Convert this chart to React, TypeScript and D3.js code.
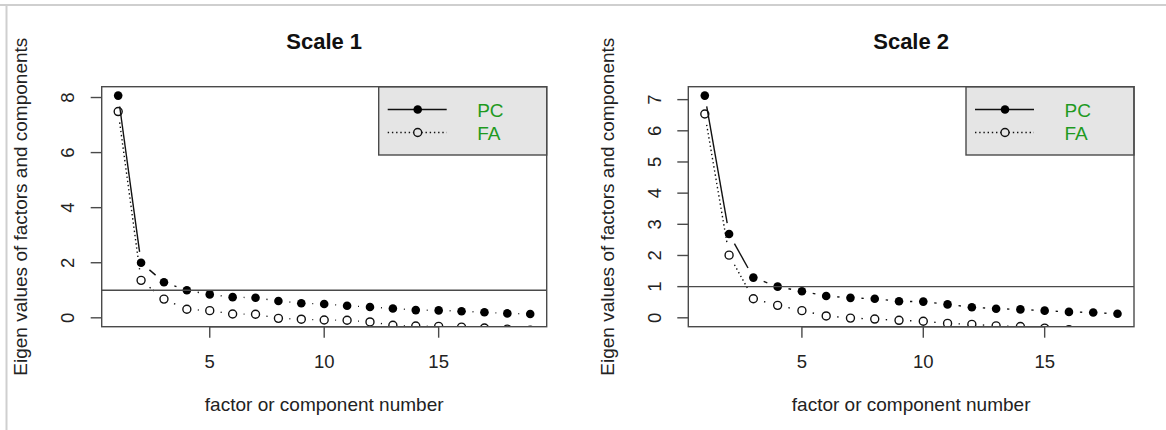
import React from "react";
import * as d3 from "d3";

// values
const titles = ["Scale 1", "Scale 2"];
const scale1PC = [8.07, 2.0, 1.29, 1.0, 0.85, 0.75, 0.73, 0.61, 0.53, 0.5, 0.44, 0.39, 0.34, 0.28, 0.27, 0.24, 0.2, 0.16, 0.14];
const scale1FA = [7.49, 1.36, 0.68, 0.31, 0.26, 0.14, 0.13, -0.02, -0.05, -0.08, -0.09, -0.15, -0.27, -0.3, -0.31, -0.34, -0.37, -0.41, -0.45];
const scale2PC = [7.13, 2.69, 1.29, 1.0, 0.85, 0.7, 0.64, 0.61, 0.53, 0.52, 0.43, 0.34, 0.29, 0.27, 0.23, 0.19, 0.17, 0.13];
const scale2FA = [6.54, 2.01, 0.61, 0.4, 0.23, 0.06, -0.01, -0.04, -0.08, -0.11, -0.18, -0.21, -0.26, -0.28, -0.33, -0.38, -0.42, -0.47];
const xTicks = [5, 10, 15];
const yTicks1 = [0, 2, 4, 6, 8];
const yTicks2 = [0, 1, 2, 3, 4, 5, 6, 7];
const legendLabels = ["PC", "FA"];
const xLabel = "factor or component number";
const yLabel = "Eigen values of factors and components";

const FONT = "'Liberation Sans', Arial, Helvetica, sans-serif";
const BOX = "#4a4a4a";
const GREEN = "#1f9a1f";
const GAP = 11; // type="b" gap around each point
const DOTTED = "1.4 2.8";

type PanelProps = {
  id: string;
  title: string;
  pc: number[];
  fa: number[];
  yTicks: number[];
  left: number;
  right: number;
};

// segments between consecutive points with gaps, like R's type = "b"
function gappedSegments(pts: [number, number][]) {
  const segs: { x1: number; y1: number; x2: number; y2: number }[] = [];
  for (let i = 0; i < pts.length - 1; i++) {
    const [ax, ay] = pts[i];
    const [bx, by] = pts[i + 1];
    const len = Math.hypot(bx - ax, by - ay);
    if (len <= 2 * GAP) continue;
    const ux = (bx - ax) / len, uy = (by - ay) / len;
    segs.push({ x1: ax + ux * GAP, y1: ay + uy * GAP, x2: bx - ux * GAP, y2: by - uy * GAP });
  }
  return segs;
}

function Panel({ id, title, pc, fa, yTicks, left, right }: PanelProps) {
  const top = 86.7, bottom = 326.7;
  const n = pc.length;
  const ext = 0.04 * (n - 1);
  const x = d3.scaleLinear().domain([1 - ext, n + ext]).range([left, right]);
  const ymax = pc[0];
  const y = d3.scaleLinear().domain([-0.04 * ymax, ymax * 1.04]).range([bottom, top]);

  const pcPts: [number, number][] = pc.map((v, i) => [x(i + 1), y(v)]);
  const faPts: [number, number][] = fa.map((v, i) => [x(i + 1), y(v)]);
  const cx = (left + right) / 2;
  const cy = (top + bottom) / 2;
  const legLeft = right - 168;
  const legBottom = 155;

  return (
    <g fontFamily={FONT}>
      <defs>
        <clipPath id={id}>
          <rect x={left} y={top} width={right - left} height={bottom - top} />
        </clipPath>
      </defs>
      <text x={cx} y={49} textAnchor="middle" fontSize={22} fontWeight="bold" fill="#111">{title}</text>

      <g clipPath={`url(#${id})`}>
        {gappedSegments(pcPts).map((s, i) => (
          <line key={"p" + i} {...s} stroke="#111" strokeWidth={1.4} />
        ))}
        {gappedSegments(faPts).map((s, i) => (
          <line key={"f" + i} {...s} stroke="#111" strokeWidth={1.4} strokeDasharray={DOTTED} />
        ))}
        {pcPts.map(([px, py], i) => (
          <circle key={"pc" + i} cx={px} cy={py} r={4.3} fill="#000" />
        ))}
        {faPts.map(([px, py], i) => (
          <circle key={"fa" + i} cx={px} cy={py} r={4.0} fill="none" stroke="#111" strokeWidth={1.4} />
        ))}
      </g>

      <line x1={left} x2={right} y1={y(1)} y2={y(1)} stroke={BOX} strokeWidth={1.4} />

      {/* legend */}
      <rect x={legLeft} y={top} width={right - legLeft} height={legBottom - top} fill="#e5e5e5" stroke={BOX} strokeWidth={1.4} />
      <line x1={legLeft + 9} x2={legLeft + 68} y1={109.5} y2={109.5} stroke="#111" strokeWidth={1.4} />
      <circle cx={legLeft + 39} cy={109.5} r={4.3} fill="#000" />
      <line x1={legLeft + 9} x2={legLeft + 68} y1={132.5} y2={132.5} stroke="#111" strokeWidth={1.4} strokeDasharray={DOTTED} />
      <circle cx={legLeft + 39} cy={132.5} r={4.0} fill="#e5e5e5" stroke="#111" strokeWidth={1.4} />
      {legendLabels.map((lab, i) => (
        <text key={lab} x={legLeft + 98.5} y={116.5 + i * 23} fontSize={19} fill={GREEN}>{lab}</text>
      ))}

      <rect x={left} y={top} width={right - left} height={bottom - top} fill="none" stroke={BOX} strokeWidth={1.4} />

      {/* x axis */}
      <line x1={x(xTicks[0])} x2={x(xTicks[xTicks.length - 1])} y1={bottom} y2={bottom} stroke={BOX} strokeWidth={1.4} />
      {xTicks.map((t) => (
        <g key={t}>
          <line x1={x(t)} x2={x(t)} y1={bottom} y2={bottom + 11} stroke={BOX} strokeWidth={1.4} />
          <text x={x(t)} y={368} textAnchor="middle" fontSize={18.5} fill="#222">{t}</text>
        </g>
      ))}
      <text x={cx} y={411} textAnchor="middle" fontSize={19} fill="#222">{xLabel}</text>

      {/* y axis */}
      {yTicks.map((t) => (
        <g key={t}>
          <line x1={left - 11} x2={left} y1={y(t)} y2={y(t)} stroke={BOX} strokeWidth={1.4} />
          <text transform={`translate(${left - 27.5},${y(t)}) rotate(-90)`} textAnchor="middle" fontSize={18.5} fill="#222">{t}</text>
        </g>
      ))}
      <text transform={`translate(${left - 74.5},${cy}) rotate(-90)`} textAnchor="middle" fontSize={19} fill="#222">{yLabel}</text>
    </g>
  );
}

export default function App() {
  const W = 1166, H = 430;
  return (
    <svg width={W} height={H} style={{ position: "absolute", left: 0, top: 0, background: "#fff" }}>
      <rect width={W} height={H} fill="#fff" />
      <line x1={0} x2={W} y1={5} y2={5} stroke="#cfcfcf" strokeWidth={2} />
      <line x1={6.5} x2={6.5} y1={5} y2={H} stroke="#cfcfcf" strokeWidth={2} />
      <Panel id="clip1" title={titles[0]} pc={scale1PC} fa={scale1FA} yTicks={yTicks1} left={101.7} right={546.7} />
      <Panel id="clip2" title={titles[1]} pc={scale2PC} fa={scale2FA} yTicks={yTicks2} left={688.3} right={1134} />
    </svg>
  );
}
